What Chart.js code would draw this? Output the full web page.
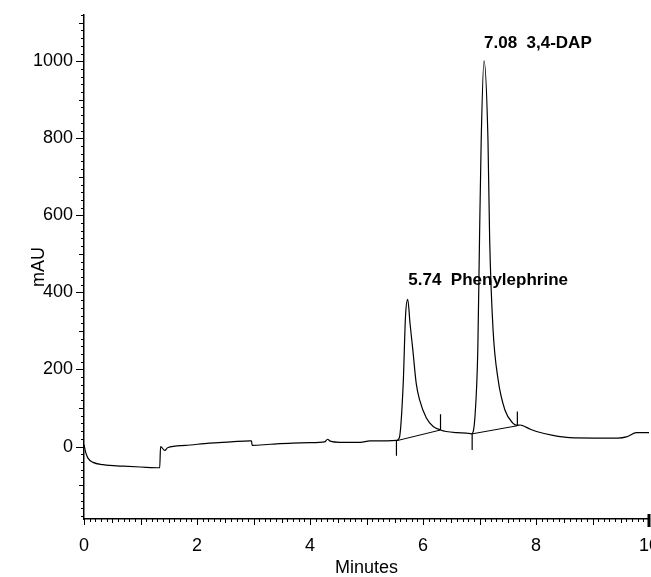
<!DOCTYPE html>
<html><head><meta charset="utf-8">
<script src="https://cdn.jsdelivr.net/npm/chart.js@4"></script>
<style>html,body{margin:0;padding:0;background:#fff}#wrap{width:651px;height:577px}</style>
</head><body><div id="wrap"><canvas id="c" width="651" height="577"></canvas></div>
<script>
// Chromatogram trace (minutes, mAU)
const times  = [0.00,0.03,0.07,0.16,0.34,0.45,0.70,1.00,1.34,1.355,1.43,1.48,1.80,2.22,2.60,2.93,2.965,2.975,3.30,3.69,4.00,4.26,4.31,4.36,4.53,4.89,5.06,5.30,5.53,5.58,5.65,5.69,5.73,5.77,5.82,5.88,5.94,6.06,6.18,6.31,6.41,6.60,6.77,6.86,6.92,6.97,7.00,7.03,7.08,7.15,7.18,7.24,7.33,7.45,7.59,7.67,7.72,7.77,7.90,8.01,8.30,8.60,9.04,9.45,9.60,9.78,10.00];
const signal = [5,-15,-30,-41,-47,-49,-51,-53,-55,0,-10,-3,3,9,12,15,15,3,6,9,10,12,19,14,11,11,15,15,16,22,164,337,382,320,251,164,121,74,52,43,39,36,35,33,78,251,536,795,1001,795,536,303,173,95,61,55,56,54,45,39,29,23,22,22,25,36,36];

// Peak annotations
const peakLabelTimes  = [5.74, 7.08];
const peakLabelLevels = [432, 1046];
const peakLabelTexts  = ['5.74  Phenylephrine', '7.08  3,4-DAP'];

// Integration baselines
const baselineStartTimes  = [5.53, 6.87];
const baselineStartLevels = [15, 33];
const baselineEndTimes    = [6.31, 7.67];
const baselineEndLevels   = [43, 54];

// Integration event markers (vertical ticks)
const markerTimes = [5.53, 6.31, 6.87, 7.67];
const markerFrom  = [15, 43, 33, 54];
const markerTo    = [-24, 84, -9, 91];

// Axis tick labels
const yTickValues = [0, 200, 400, 600, 800, 1000];
const xTickValues = [0, 2, 4, 6, 8, 10];

const FONT = "'Liberation Sans', Arial, sans-serif";

const traceData = times.map((t, i) => ({x: t, y: signal[i]}));
const baselineData = [];
baselineStartTimes.forEach((t, i) => {
  baselineData.push({x: t, y: baselineStartLevels[i]});
  baselineData.push({x: baselineEndTimes[i], y: baselineEndLevels[i]});
  baselineData.push({x: baselineEndTimes[i] + 0.001, y: null});
});
const markerData = [];
markerTimes.forEach((t, i) => {
  markerData.push({x: t, y: markerFrom[i]});
  markerData.push({x: t, y: markerTo[i]});
  markerData.push({x: t + 0.001, y: null});
});

const tickPlugin = {
  id: 'minorTicks',
  afterDraw(chart) {
    const ctx = chart.ctx, xs = chart.scales.x, ys = chart.scales.y;
    const x0 = xs.left, y0 = ys.bottom;
    ctx.save();
    ctx.strokeStyle = '#000';
    ctx.lineWidth = 1;
    ctx.beginPath();
    for (let i = -20; i <= 60; i++) {
      const v = i * 20;
      if (v < ys.min || v > ys.max) continue;
      const py = Math.round(ys.getPixelForValue(v)) + 0.5;
      const len = v % 200 === 0 ? 8 : (v % 100 === 0 ? 5 : 3);
      ctx.moveTo(x0 - len, py); ctx.lineTo(x0, py);
    }
    for (let i = 0; i <= 100; i++) {
      const t = i / 10;
      const px = Math.round(xs.getPixelForValue(t)) + 0.5;
      const len = i % 10 === 0 ? 6 : (i % 5 === 0 ? 4 : 3);
      ctx.moveTo(px, y0); ctx.lineTo(px, y0 + len);
    }
    ctx.stroke();
    ctx.lineWidth = 3;
    const pe = xs.getPixelForValue(xs.max);
    ctx.beginPath(); ctx.moveTo(pe, y0 - 5); ctx.lineTo(pe, y0 + 8); ctx.stroke();
    ctx.restore();
  },
  afterDatasetsDraw(chart) {
    const ctx = chart.ctx, xs = chart.scales.x, ys = chart.scales.y;
    ctx.save();
    ctx.fillStyle = '#000';
    ctx.font = 'bold 17px ' + FONT;
    ctx.textAlign = 'left';
    ctx.textBaseline = 'middle';
    peakLabelTexts.forEach((txt, i) => {
      ctx.fillText(txt, xs.getPixelForValue(peakLabelTimes[i]), ys.getPixelForValue(peakLabelLevels[i]));
    });
    ctx.restore();
  }
};

new Chart(document.getElementById('c'), {
  type: 'line',
  data: {
    datasets: [
      {data: traceData, borderColor: '#000', borderWidth: 1.2, pointRadius: 0, cubicInterpolationMode: 'monotone', fill: false},
      {data: baselineData, borderColor: '#000', borderWidth: 1, pointRadius: 0, tension: 0, spanGaps: false, fill: false},
      {data: markerData, borderColor: '#000', borderWidth: 1.2, pointRadius: 0, tension: 0, spanGaps: false, fill: false}
    ]
  },
  options: {
    responsive: false,
    animation: false,
    devicePixelRatio: 1,
    layout: {padding: {top: 15, right: 2, left: 0, bottom: 0}},
    plugins: {legend: {display: false}, tooltip: {enabled: false}},
    scales: {
      x: {
        type: 'linear', min: 0, max: 10,
        afterBuildTicks: s => { s.ticks = xTickValues.map(v => ({value: v})); },
        afterFit: s => { s.height = 58; s.paddingLeft = 0; s.paddingRight = 0; },
        grid: {display: true, drawOnChartArea: false, drawTicks: false},
        border: {display: true, color: '#000', width: 1.5},
        ticks: {color: '#000', font: {family: FONT, size: 18}, padding: 16, maxRotation: 0, autoSkip: false, callback: v => String(v)},
        title: {display: true, text: 'Minutes', color: '#000', font: {family: FONT, size: 18, lineHeight: 1}, padding: {top: -2, bottom: 0}}
      },
      y: {
        type: 'linear', min: -188, max: 1120,
        afterBuildTicks: s => { s.ticks = yTickValues.map(v => ({value: v})); },
        afterFit: s => { s.width = 84; s.paddingTop = 0; s.paddingBottom = 0; },
        grid: {display: true, drawOnChartArea: false, drawTicks: false},
        border: {display: true, color: '#000', width: 1.5},
        ticks: {color: '#000', font: {family: FONT, size: 18}, padding: 11, autoSkip: false, callback: v => String(v)},
        title: {display: true, text: 'mAU', color: '#000', font: {family: FONT, size: 18, lineHeight: 1.2}, padding: {top: 28, bottom: 0}}
      }
    }
  },
  plugins: [tickPlugin]
});
</script></body></html>
